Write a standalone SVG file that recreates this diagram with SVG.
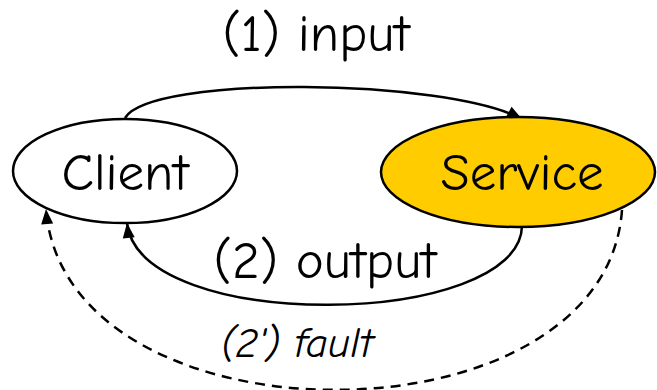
<svg xmlns="http://www.w3.org/2000/svg" width="657" height="390" viewBox="0 0 657 390">
<style>
text{font-family:"Comic Sans MS","Comic Neue","DejaVu Sans",sans-serif;fill:#000}
.lbl{font-size:53px;text-anchor:middle}
.node{stroke:#000;stroke-width:2.5}
.edge{fill:none;stroke:#000;stroke-width:2.5}
.dash{stroke-dasharray:10 7}
</style>
<defs>
<marker id="ah" viewBox="0 0 15 12" refX="15" refY="6" markerWidth="15" markerHeight="12" markerUnits="userSpaceOnUse" orient="auto" overflow="visible">
<path d="M0,0 L15,6 L0,12 Z" fill="#000"/>
</marker>
</defs>
<g id="connectors">
<path class="edge" d="M125,118 C150,75 445,78 522,119" marker-end="url(#ah)"/>
<path class="edge" d="M522,226 C520,328 140,335 127,223" marker-end="url(#ah)"/>
<path class="edge dash" d="M622,210 C605,450 65,450 46,209" marker-end="url(#ah)"/>
<text class="lbl" x="316" y="51">(1) input</text>
<text class="lbl" x="325" y="278">(2) output</text>
<text x="297" y="357" style="font-size:43px;font-style:italic;text-anchor:middle">(2') fault</text>
</g>
<g id="client">
<ellipse class="node" cx="125" cy="171" rx="112" ry="52" fill="#fff"/>
<text class="lbl" x="125" y="190">Client</text>
</g>
<g id="service">
<ellipse class="node" cx="518" cy="172" rx="137" ry="55" fill="#ffcc00"/>
<text class="lbl" x="522" y="190">Service</text>
</g>
</svg>
